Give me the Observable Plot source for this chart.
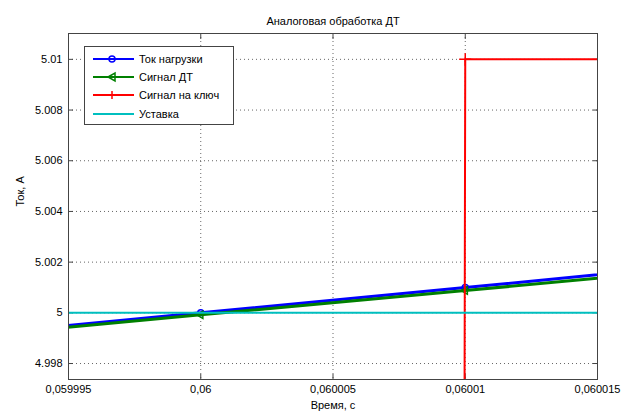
<!DOCTYPE html>
<html>
<head>
<meta charset="utf-8">
<script src="https://cdn.jsdelivr.net/npm/d3@7"></script>
<script src="https://cdn.jsdelivr.net/npm/@observablehq/plot@0.6"></script>
<style>
  html, body { margin: 0; padding: 0; background: #fff; }
  #wrap { position: relative; width: 633px; height: 418px; font-family: "Liberation Sans", Arial, sans-serif; }
  #legend { position: absolute; left: 84px; top: 46px; width: 150px; height: 79px; background: #fff; border: 1px solid #444; box-sizing: border-box; font-size: 11px; color: #000; }
  #legend .row { position: absolute; left: 0; height: 16px; display: flex; align-items: center; }
  #legend svg { display: block; }
  #legend span { margin-left: 3px; }
</style>
</head>
<body>
<div id="wrap"></div>
<script>
// ---- data ----
const time = [0.05999, 0.06, 0.06001, 0.06002];
const loadCurrent = [4.999, 5.0, 5.001, 5.002];        // Ток нагрузки
const sensorSignal = [4.99895, 4.99992, 5.00088, 5.00185]; // Сигнал ДТ
const switchSignal = [0, 0, 5.01, 5.01];              // Сигнал на ключ
const setpoint = [5, 5, 5, 5];                         // Уставка

const seriesNames = ["Ток нагрузки", "Сигнал ДТ", "Сигнал на ключ", "Уставка"];
const seriesColors = ["#0000ff", "#008000", "#ff0000", "#00bfbf"];

const xTicks = [0.059995, 0.06, 0.060005, 0.06001, 0.060015];
const xTickLabels = ["0,059995", "0,06", "0,060005", "0,06001", "0,060015"];
const yTicks = [4.998, 5, 5.002, 5.004, 5.006, 5.008, 5.01];
const yTickLabels = ["4.998", "5", "5.002", "5.004", "5.006", "5.008", "5.01"];

const titleText = "Аналоговая обработка ДТ";
const xLabel = "Время, с";
const yLabel = "Ток, А";

const xDomain = [0.059995, 0.060015];
const yDomain = [4.99737, 5.01102];

// ---- tables ----
const toRows = (vals) => time.map((t, i) => ({t, v: vals[i]}));
const inView = (rows) => rows.filter(d => d.t >= xDomain[0] && d.t <= xDomain[1] && d.v >= yDomain[0] && d.v <= yDomain[1]);
const rowsLoad = toRows(loadCurrent), rowsSensor = toRows(sensorSignal), rowsSwitch = toRows(switchSignal), rowsSet = toRows(setpoint);

const chart = Plot.plot({
  width: 633, height: 418,
  marginLeft: 68, marginRight: 36, marginTop: 33, marginBottom: 39,
  style: {fontFamily: "Liberation Sans, Arial, sans-serif", fontSize: "11px", background: "#fff", color: "#000"},
  x: {domain: xDomain},
  y: {domain: yDomain},
  marks: [
    Plot.gridX(xTicks, {stroke: "#000", strokeOpacity: 0.6, strokeDasharray: "1,3"}),
    Plot.gridY(yTicks, {stroke: "#000", strokeOpacity: 0.6, strokeDasharray: "1,3"}),
    Plot.axisX(xTicks, {anchor: "bottom", tickSize: -5, tickPadding: 11, tickFormat: (d, i) => xTickLabels[i], label: null, stroke: "#444"}),
    Plot.axisX(xTicks, {anchor: "top", tickSize: -5, tickFormat: () => "", label: null, stroke: "#444"}),
    Plot.axisY(yTicks, {anchor: "left", tickSize: -5, tickPadding: 11, tickFormat: (d, i) => yTickLabels[i], label: null, stroke: "#444"}),
    Plot.axisY(yTicks, {anchor: "right", tickSize: -5, tickFormat: () => "", label: null, stroke: "#444"}),
    Plot.line(rowsLoad, {x: "t", y: "v", stroke: seriesColors[0], strokeWidth: 3, clip: true}),
    Plot.dot(inView(rowsLoad), {x: "t", y: "v", symbol: "circle", r: 3, stroke: seriesColors[0], strokeWidth: 1.5, fill: "none"}),
    Plot.line(rowsSensor, {x: "t", y: "v", stroke: seriesColors[1], strokeWidth: 3, clip: true}),
    Plot.dot(inView(rowsSensor), {x: "t", y: "v", symbol: "triangle2", r: 3.5, rotate: -90, stroke: seriesColors[1], strokeWidth: 1.5, fill: "none"}),
    Plot.line(rowsSwitch, {x: "t", y: "v", stroke: seriesColors[2], strokeWidth: 2, clip: true}),
    Plot.dot(inView(rowsSwitch), {x: "t", y: "v", symbol: "plus", r: 4, stroke: seriesColors[2], strokeWidth: 1.5}),
    Plot.line(rowsSet, {x: "t", y: "v", stroke: seriesColors[3], strokeWidth: 2, clip: true}),
    Plot.frame({stroke: "#444"}),
    Plot.text([titleText], {frameAnchor: "top", dy: -16, fontSize: 11}),
    Plot.text([xLabel], {frameAnchor: "bottom", dy: 29, fontSize: 11}),
    Plot.text([yLabel], {frameAnchor: "left", dx: -48, rotate: -90, fontSize: 11})
  ]
});

const wrap = document.getElementById("wrap");
wrap.appendChild(chart);

// legend
const legend = document.createElement("div");
legend.id = "legend";
const symbols = [
  '<circle cx="20" cy="8" r="3" fill="none" stroke="COLOR" stroke-width="1.5"/>',
  '<path d="M16,8 L23,4 L23,12 Z" fill="none" stroke="COLOR" stroke-width="1.5"/>',
  '<path d="M20,4 V12" stroke="COLOR" stroke-width="1.5"/>',
  ''
];
const rowTops = [4, 22, 40, 59];
seriesNames.forEach((name, i) => {
  const row = document.createElement("div");
  row.className = "row";
  row.style.top = rowTops[i] + "px";
  row.style.left = "7px";
  const c = seriesColors[i];
  row.innerHTML = `<svg width="44" height="16"><line x1="1" y1="8" x2="42" y2="8" stroke="${c}" stroke-width="2"/>${symbols[i].replace(/COLOR/g, c)}</svg><span>${name}</span>`;
  legend.appendChild(row);
});
wrap.appendChild(legend);
</script>
</body>
</html>
